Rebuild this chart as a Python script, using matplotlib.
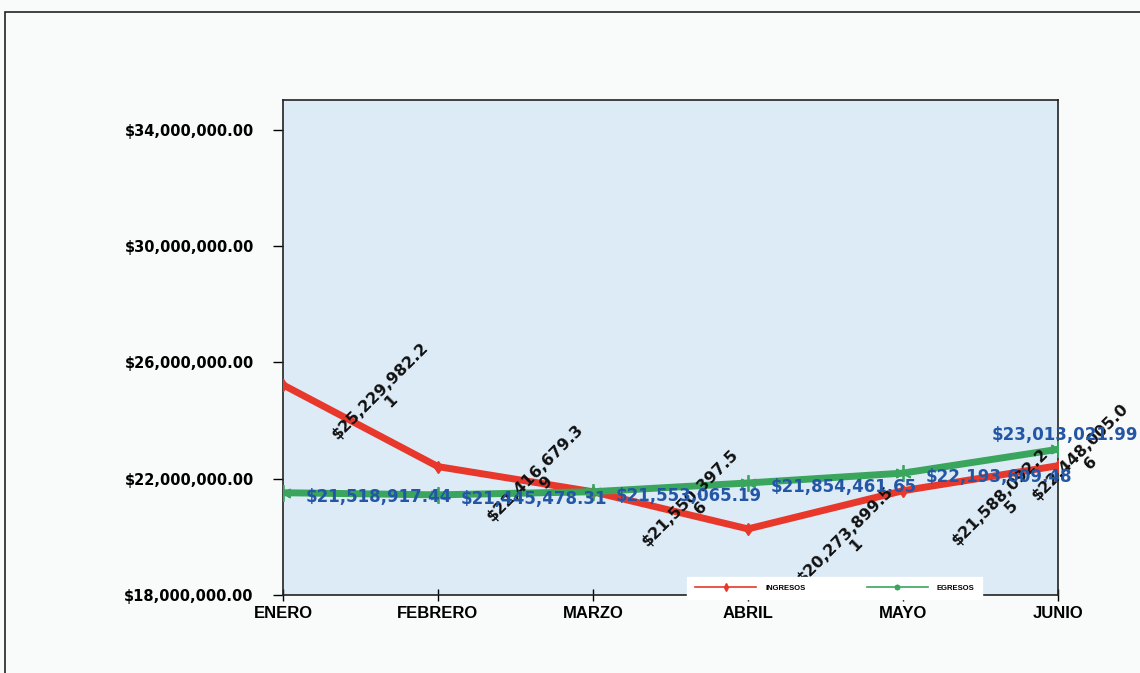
"""
Ingresos vs egresos, enero a junio.
"""

import matplotlib
matplotlib.use("Agg")
from matplotlib import pyplot as plt
from matplotlib.patches import Rectangle
from matplotlib.ticker import FuncFormatter

meses = ["ENERO", "FEBRERO", "MARZO", "ABRIL", "MAYO", "JUNIO"]
ingresos = [25229982.21, 22416679.39, 21550397.56, 20273899.51,
            21588092.25, 22448005.06]
egresos = [21518917.44, 21445478.31, 21553065.19, 21854461.65,
           22193609.48, 23013021.99]
y_ticks = [18000000, 22000000, 26000000, 30000000, 34000000]

# label offsets in points (excel moved the last ones)
off_ing = [(74, -8)] * 5 + [(20, 6)]
off_egr = [(16, -3)] * 5 + [(-48, 10)]

red = "#e8382b"
green = "#3aa55c"
blue = "#2456a6"

fig = plt.figure(figsize=(11.4, 6.73), dpi=100)
fig.patch.set_facecolor("#f9fafa")

# outer chart border
fig.patches.append(Rectangle((5 / 1140, -0.02), 1.2, 1 - 12 / 673 + 0.02,
                             transform=fig.transFigure, fill=False,
                             edgecolor="#222222", linewidth=1.2))

ax = fig.add_axes([283 / 1140, 1 - 595 / 673, 775 / 1140, 495 / 673])
ax.set_facecolor("#dcebf6")

x = list(range(len(meses)))
ax.plot(x, ingresos, color=red, linewidth=5, marker="d", markersize=6,
        label="INGRESOS", zorder=3)
ax.plot(x, egresos, color=green, linewidth=5, marker=(6, 2, 0),
        markersize=12, markeredgewidth=1.3, label="EGRESOS", zorder=4)

for i, v in enumerate(ingresos):
    s = "${:,.2f}".format(v)
    s = s[:-1] + "\n" + s[-1]
    ax.annotate(s, (i, v), xytext=off_ing[i], textcoords="offset points",
                ha="center", va="center", rotation=45, rotation_mode="anchor",
                fontsize=11.5, fontweight="heavy", color="#111111",
                family="DejaVu Sans", zorder=6, annotation_clip=False,
                linespacing=1.0)

for i, v in enumerate(egresos):
    ax.annotate("${:,.2f}".format(v), (i, v), xytext=off_egr[i],
                textcoords="offset points", ha="left", va="center",
                fontsize=12, fontweight="heavy", color=blue,
                family="DejaVu Sans", zorder=7, annotation_clip=False)

ax.set_xlim(0, 5)
ax.set_ylim(18000000, 35030000)
ax.set_xticks(x)
ax.set_xticklabels(meses)
for lab in ax.get_xticklabels():
    lab.set_family("Liberation Sans")
    lab.set_fontweight("bold")
    lab.set_fontsize(12)
ax.set_yticks(y_ticks)
ax.yaxis.set_major_formatter(FuncFormatter(lambda v, p: "${:,.2f}".format(v)))
for lab in ax.get_yticklabels():
    lab.set_family("DejaVu Sans")
    lab.set_fontweight("bold")
    lab.set_fontsize(10.5)
ax.tick_params(axis="y", direction="out", length=7, width=1, pad=14)
ax.tick_params(axis="x", direction="inout", length=8, width=1, pad=4)
for sp in ax.spines.values():
    sp.set_color("#222222")
    sp.set_linewidth(1.2)

leg = ax.legend(loc="center", bbox_to_anchor=(0.712, 0.014), ncol=2,
                frameon=True, fancybox=False,
                handlelength=8, columnspacing=8, borderpad=1.0,
                handletextpad=1.2,
                prop={"family": "Liberation Sans", "weight": "bold",
                      "size": 5.5})
leg.get_frame().set_facecolor("white")
leg.get_frame().set_edgecolor("white")
leg.get_frame().set_alpha(1)
leg.set_zorder(10)
for h in leg.get_lines():
    h.set_linewidth(1.2)
    h.set_markersize(4)

fig.savefig("out.png", dpi=100)
